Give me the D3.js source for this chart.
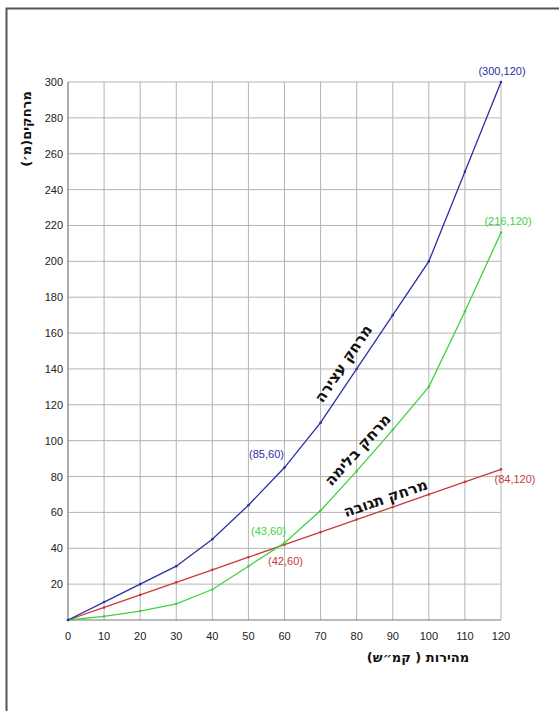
<!DOCTYPE html>
<html>
<head>
<meta charset="utf-8">
<script src="https://cdn.jsdelivr.net/npm/d3@7"></script>
<style>
  body { margin: 0; background: #fff; }
  text { font-family: "Liberation Sans", Arial, sans-serif; }
</style>
</head>
<body>
<svg id="chart" width="559" height="711"></svg>
<script>
// speeds (km/h) and distances (m)
var speeds = [0, 10, 20, 30, 40, 50, 60, 70, 80, 90, 100, 110, 120];
var stopping = [0, 10, 20, 30, 45, 64, 85, 110, 140, 170, 200, 250, 300];
var braking = [0, 2, 5, 9, 17, 30, 43, 61, 83, 106, 130, 172, 216];
var reaction = [0, 7, 14, 21, 28, 35, 42, 49, 56, 63, 70, 77, 84];

var xTicks = [0, 10, 20, 30, 40, 50, 60, 70, 80, 90, 100, 110, 120];
var yTicks = [20, 40, 60, 80, 100, 120, 140, 160, 180, 200, 220, 240, 260, 280, 300];

var pointLabels = [
  {x: 120, y: 300, text: "(300,120)", color: "#2b2fa8", dx: 1, dy: -7},
  {x: 120, y: 216, text: "(216,120)", color: "#3fd23f", dx: 7, dy: -8},
  {x: 60, y: 85, text: "(85,60)", color: "#2b2fa8", dx: -18, dy: -10},
  {x: 60, y: 43, text: "(43,60)", color: "#3fd23f", dx: -16, dy: -8},
  {x: 60, y: 42, text: "(42,60)", color: "#c83a3a", dx: 1, dy: 20},
  {x: 120, y: 84, text: "(84,120)", color: "#c83a3a", dx: 14, dy: 14}
];

var svg = d3.select("#chart");

//page frame
svg.append("rect")
    .attr("x", 6.5).attr("y", 8.5)
    .attr("width", 560).attr("height", 720)
    .style("fill", "none").style("stroke", "#555").style("stroke-width", 2);

var x = d3.scaleLinear().domain([0, 120]).range([68, 501]);
var y = d3.scaleLinear().domain([0, 300]).range([620, 82]);

//grid
svg.append("g").selectAll("line")
    .data(xTicks.slice(1))
    .enter().append("line")
    .attr("x1", x).attr("x2", x)
    .attr("y1", y(0)).attr("y2", y(300))
    .style("stroke", "#b4b4b4").style("stroke-width", 1);

svg.append("g").selectAll("line")
    .data(yTicks)
    .enter().append("line")
    .attr("x1", x(0)).attr("x2", x(120))
    .attr("y1", y).attr("y2", y)
    .style("stroke", "#b4b4b4").style("stroke-width", 1);

//axis lines
svg.append("line")
    .attr("x1", x(0)).attr("x2", x(0)).attr("y1", y(0)).attr("y2", y(300))
    .style("stroke", "#777").style("stroke-width", 1.2);
svg.append("line")
    .attr("x1", x(0)).attr("x2", x(120)).attr("y1", y(0)).attr("y2", y(0))
    .style("stroke", "#777").style("stroke-width", 1.2);

//tick labels
svg.append("g").selectAll("text")
    .data(xTicks)
    .enter().append("text")
    .attr("x", x).attr("y", 640)
    .attr("text-anchor", "middle")
    .style("font-size", "11px").style("fill", "#222")
    .text(function(d) { return d; });

svg.append("g").selectAll("text")
    .data(yTicks)
    .enter().append("text")
    .attr("x", 63).attr("y", function(d) { return y(d) + 4; })
    .attr("text-anchor", "end")
    .style("font-size", "11px").style("fill", "#222")
    .text(function(d) { return d; });

//axis titles
svg.append("text")
    .attr("transform", "translate(31,129) rotate(-90)")
    .attr("text-anchor", "middle")
    .style("font-size", "13px").style("font-weight", "bold").style("fill", "#111")
    .style("font-family", "DejaVu Sans")
    .text("מרחקים(מ׳)");

svg.append("text")
    .attr("x", 418).attr("y", 662)
    .attr("text-anchor", "middle")
    .style("font-size", "13px").style("font-weight", "bold").style("fill", "#111")
    .style("font-family", "DejaVu Sans")
    .text("מהירות ( קמ״ש)");

//lines
var line = d3.line()
    .x(function(d) { return x(d[0]); })
    .y(function(d) { return y(d[1]); });

var series = [
  {values: reaction, color: "#c83a3a"},
  {values: braking, color: "#3fd23f"},
  {values: stopping, color: "#2b2fa8"}
];

series.forEach(function(s) {
  var pts = speeds.map(function(v, i) { return [v, s.values[i]]; });
  svg.append("path")
      .datum(pts)
      .attr("d", line)
      .style("fill", "none").style("stroke", s.color).style("stroke-width", 1.3);
  //small point dots
  svg.append("g").selectAll("circle")
      .data(pts)
      .enter().append("circle")
      .attr("cx", function(d) { return x(d[0]); })
      .attr("cy", function(d) { return y(d[1]); })
      .attr("r", 1.3)
      .style("fill", s.color);
});

//point annotations
svg.append("g").selectAll("text")
    .data(pointLabels)
    .enter().append("text")
    .attr("x", function(d) { return x(d.x) + d.dx; })
    .attr("y", function(d) { return y(d.y) + d.dy; })
    .attr("text-anchor", "middle")
    .style("font-size", "11px")
    .style("fill", function(d) { return d.color; })
    .text(function(d) { return d.text; });

//line names (centre in data units, angle in degrees)
var names = [
  {x: 76.3, y: 143, angle: -56, text: "מרחק עצירה"},
  {x: 80.3, y: 95, angle: -48, text: "מרחק בלימה"},
  {x: 88, y: 68, angle: -19, text: "מרחק תגובה"}
];
svg.append("g").selectAll("text")
    .data(names)
    .enter().append("text")
    .attr("transform", function(d) { return "translate(" + x(d.x) + "," + y(d.y) + ") rotate(" + d.angle + ")"; })
    .attr("text-anchor", "middle")
    .attr("dy", "0.35em")
    .style("font-size", "15px").style("font-weight", "bold").style("fill", "#111")
    .style("font-family", "DejaVu Sans")
    .text(function(d) { return d.text; });
</script>
</body>
</html>
